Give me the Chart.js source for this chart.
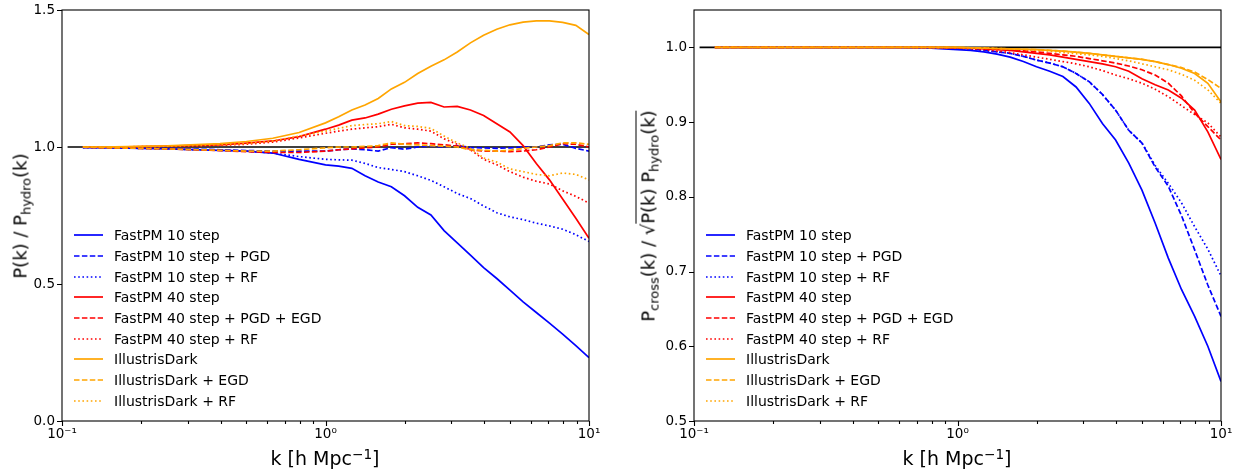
<!DOCTYPE html>
<html>
<head>
<meta charset="utf-8">
<script src="https://cdn.jsdelivr.net/npm/chart.js@4.4.0/dist/chart.umd.min.js"></script>
<style>
body { margin:0; background:#fff; width:1246px; height:472px; position:relative; overflow:hidden; font-family:'DejaVu Sans', sans-serif; color:#000; }
canvas { position:absolute; top:0; }
.ytitle { position:absolute; transform:translate(-50%,-50%) rotate(-90deg); white-space:nowrap; font-size:18px; }
.xtitle { position:absolute; transform:translate(-50%,-50%); white-space:nowrap; font-size:19px; }
.legend { position:absolute; font-size:14px; }
.legend div { height:20.67px; display:flex; align-items:center; white-space:nowrap; }
.legend svg { margin-right:11px; }
sub { font-size:0.72em; vertical-align:-0.32em; line-height:0; }
sup { font-size:0.72em; vertical-align:0.45em; line-height:0; }
.root { border-top:1.3px solid #000; padding-top:1px; }
</style>
</head>
<body>
<canvas id="left" width="623" height="472" style="left:0"></canvas>
<canvas id="right" width="623" height="472" style="left:623px"></canvas>

<div class="ytitle" style="left:20px; top:216px">P(k) / P<sub>hydro</sub>(k)</div>
<div class="ytitle" style="left:648px; top:216px">P<sub>cross</sub>(k) / √<span class="root">P(k) P<sub>hydro</sub>(k)</span></div>
<div class="xtitle" style="left:325px; top:458px">k [h Mpc<sup>−1</sup>]</div>
<div class="xtitle" style="left:957px; top:458px">k [h Mpc<sup>−1</sup>]</div>
<div class="legend" id="legLeft" style="left:74px; top:225px"></div>
<div class="legend" id="legRight" style="left:706px; top:225px"></div>

<script>
// k grid shared by every curve
const kVals = [0.120, 0.158, 0.251, 0.398, 0.501, 0.631, 0.794, 1.0, 1.122, 1.259, 1.413, 1.585, 1.778, 1.995,
               2.239, 2.512, 2.818, 3.162, 3.548, 3.981, 4.467, 5.012, 5.623, 6.310, 7.079, 7.943, 8.913, 10.0];

// left panel: P(k) / P_hydro(k)
const p10      = [0.998,0.997,0.993,0.988,0.985,0.978,0.955,0.935,0.930,0.922,0.895,0.872,0.855,0.822,0.780,0.752,0.695,0.650,0.605,0.560,0.520,0.478,0.435,0.396,0.357,0.317,0.275,0.231];
const p10Pgd   = [0.999,0.998,0.995,0.990,0.987,0.985,0.985,0.985,0.990,0.993,0.990,0.985,0.998,0.992,1.000,1.003,1.000,1.005,0.998,0.997,0.995,0.997,1.000,1.000,1.008,1.010,0.995,0.985];
const p10Rf    = [0.998,0.997,0.993,0.988,0.985,0.978,0.965,0.955,0.953,0.952,0.940,0.925,0.918,0.910,0.895,0.878,0.855,0.830,0.812,0.785,0.760,0.745,0.735,0.722,0.712,0.700,0.680,0.655];
const p40      = [1.000,1.000,1.003,1.008,1.014,1.022,1.038,1.065,1.080,1.098,1.106,1.120,1.138,1.150,1.160,1.163,1.146,1.148,1.135,1.115,1.085,1.055,1.005,0.940,0.880,0.810,0.740,0.667];
const p40PgdEgd= [0.999,0.997,0.993,0.987,0.983,0.980,0.980,0.985,0.990,0.993,0.997,1.000,1.010,1.012,1.015,1.012,1.008,1.003,0.990,0.985,0.985,0.983,0.985,0.990,1.000,1.012,1.010,1.000];
const p40Rf    = [1.000,1.000,1.002,1.006,1.010,1.018,1.033,1.050,1.058,1.065,1.070,1.074,1.083,1.070,1.065,1.058,1.030,1.010,0.990,0.955,0.935,0.910,0.890,0.875,0.865,0.840,0.820,0.795];
const ill      = [1.000,1.001,1.004,1.012,1.020,1.032,1.053,1.088,1.110,1.135,1.153,1.177,1.212,1.236,1.268,1.295,1.318,1.347,1.380,1.408,1.430,1.446,1.456,1.460,1.460,1.455,1.444,1.410];
const illEgd   = [0.999,0.997,0.993,0.988,0.985,0.985,0.990,0.997,1.000,1.000,1.002,1.005,1.015,1.010,1.008,1.005,1.003,1.000,0.990,0.988,0.985,0.988,0.995,1.000,1.005,1.015,1.015,1.010];
const illRf    = [1.000,1.000,1.003,1.008,1.013,1.022,1.040,1.058,1.068,1.078,1.082,1.085,1.093,1.078,1.075,1.068,1.040,1.015,0.995,0.960,0.945,0.920,0.910,0.900,0.895,0.905,0.900,0.880];

// right panel: P_cross / sqrt(P P_hydro)
const c10      = [1.000,1.000,1.000,1.000,0.9998,0.9995,0.999,0.997,0.996,0.994,0.991,0.987,0.981,0.974,0.968,0.961,0.947,0.925,0.898,0.876,0.845,0.809,0.765,0.718,0.676,0.640,0.600,0.553];
const c10Pgd   = [1.000,1.000,1.000,1.000,1.000,0.9998,0.9995,0.999,0.998,0.996,0.994,0.992,0.988,0.983,0.979,0.974,0.965,0.954,0.937,0.916,0.889,0.872,0.840,0.814,0.775,0.729,0.682,0.640];
const c10Rf    = [1.000,1.000,1.000,1.000,1.000,0.9998,0.9995,0.999,0.998,0.996,0.994,0.992,0.988,0.983,0.979,0.974,0.965,0.954,0.937,0.916,0.889,0.872,0.842,0.818,0.792,0.760,0.730,0.694];
const c40      = [1.000,1.000,1.000,1.000,1.000,1.000,1.000,0.9995,0.999,0.998,0.997,0.996,0.994,0.992,0.990,0.987,0.984,0.981,0.978,0.974,0.968,0.958,0.950,0.943,0.932,0.916,0.887,0.850];
const c40PgdEgd= [1.000,1.000,1.000,1.000,1.000,1.000,1.000,0.9995,0.999,0.9985,0.998,0.997,0.9955,0.994,0.992,0.990,0.988,0.985,0.982,0.979,0.975,0.970,0.963,0.952,0.935,0.912,0.894,0.876];
const c40Rf    = [1.000,1.000,1.000,1.000,1.000,1.000,0.9995,0.999,0.998,0.997,0.995,0.993,0.990,0.987,0.984,0.981,0.978,0.974,0.969,0.963,0.958,0.952,0.944,0.934,0.922,0.910,0.899,0.880];
const cIll     = [1.000,1.000,1.000,1.000,1.000,1.000,1.000,1.000,0.9995,0.999,0.9985,0.998,0.9975,0.997,0.996,0.995,0.9935,0.992,0.990,0.988,0.986,0.984,0.981,0.977,0.972,0.965,0.952,0.927];
const cIllEgd  = [1.000,1.000,1.000,1.000,1.000,1.000,1.000,1.000,0.9995,0.999,0.9985,0.998,0.9975,0.997,0.996,0.995,0.9935,0.992,0.990,0.988,0.986,0.984,0.981,0.977,0.973,0.967,0.957,0.945];
const cIllRf   = [1.000,1.000,1.000,1.000,1.000,1.000,1.000,1.000,0.9995,0.999,0.9985,0.998,0.997,0.996,0.995,0.993,0.9915,0.990,0.988,0.985,0.982,0.978,0.974,0.970,0.964,0.956,0.943,0.925];

// reference line
const refK = [0.105, 10];
const refVal = [1, 1];

const names = ['FastPM 10 step', 'FastPM 10 step + PGD', 'FastPM 10 step + RF',
               'FastPM 40 step', 'FastPM 40 step + PGD + EGD', 'FastPM 40 step + RF',
               'IllustrisDark', 'IllustrisDark + EGD', 'IllustrisDark + RF'];
const leftSeries = [p10, p10Pgd, p10Rf, p40, p40PgdEgd, p40Rf, ill, illEgd, illRf];
const rightSeries = [c10, c10Pgd, c10Rf, c40, c40PgdEgd, c40Rf, cIll, cIllEgd, cIllRf];

const xMajor = [0.1, 1, 10];
const xMajorLabels = ['10⁻¹', '10⁰', '10¹'];
const leftYTicks = [0, 0.5, 1.0, 1.5];
const rightYTicks = [0.5, 0.6, 0.7, 0.8, 0.9, 1.0];

const colors = ['#0000ff', '#0000ff', '#0000ff', '#ff0000', '#ff0000', '#ff0000', '#ffa500', '#ffa500', '#ffa500'];
const dashes = [[], [5.5, 2.4], [1.6, 2.6]];

Chart.defaults.font.family = "'DejaVu Sans', sans-serif";
Chart.defaults.font.size = 13.5;
Chart.defaults.color = '#000';

const xTickList = [];
[0.1, 1].forEach(d => { for (let m = 1; m <= 9; m++) xTickList.push(+(d * m).toPrecision(3)); });
xTickList.push(10);

const frameTicks = {
    id: 'frameTicks',
    afterDraw(chart) {
        const { ctx, chartArea: a, scales: { x, y } } = chart;
        ctx.save();
        ctx.strokeStyle = '#000';
        ctx.lineWidth = 1.1;
        ctx.strokeRect(a.left, a.top, a.right - a.left, a.bottom - a.top);
        ctx.beginPath();
        x.ticks.forEach(t => {
            const px = Math.round(x.getPixelForValue(t.value)) + 0.5;
            const major = xMajor.some(v => Math.abs(v - t.value) < 1e-9);
            ctx.moveTo(px, a.bottom);
            ctx.lineTo(px, a.bottom + (major ? 5 : 3));
        });
        y.ticks.forEach(t => {
            const py = Math.round(y.getPixelForValue(t.value)) + 0.5;
            ctx.moveTo(a.left, py);
            ctx.lineTo(a.left - 5, py);
        });
        ctx.stroke();
        ctx.restore();
    }
};

function makeChart(id, series, yMin, yMax, yTicks, yWidth, padRight) {
    const datasets = [{
        data: refK.map((k, i) => ({ x: k, y: refVal[i] })),
        borderColor: '#000', borderWidth: 1.7, pointRadius: 0, order: 1
    }];
    series.forEach((vals, i) => {
        datasets.push({
            label: names[i],
            data: kVals.map((k, j) => ({ x: k, y: vals[j] })),
            borderColor: colors[i], borderWidth: 1.7, borderDash: dashes[i % 3],
            pointRadius: 0, tension: 0, order: -i
        });
    });
    return new Chart(document.getElementById(id), {
        type: 'line',
        data: { datasets },
        plugins: [frameTicks],
        options: {
            responsive: false, animation: false, devicePixelRatio: 1,
            layout: { padding: { top: 10, right: padRight, left: 0, bottom: 0 } },
            plugins: { legend: { display: false }, tooltip: { enabled: false } },
            scales: {
                x: {
                    type: 'logarithmic', min: 0.1, max: 10,
                    grid: { display: false, drawTicks: false }, border: { display: false },
                    afterBuildTicks: s => { s.ticks = xTickList.map(v => ({ value: v })); },
                    afterFit: s => { s.height = 51; s.paddingLeft = 0; s.paddingRight = 0; },
                    ticks: {
                        autoSkip: false, maxRotation: 0, minRotation: 0, padding: 5,
                        callback: v => {
                            const i = xMajor.findIndex(m => Math.abs(m - v) < 1e-9);
                            return i >= 0 ? xMajorLabels[i] : '';
                        }
                    }
                },
                y: {
                    type: 'linear', min: yMin, max: yMax,
                    grid: { display: false, drawTicks: false }, border: { display: false },
                    afterBuildTicks: s => { s.ticks = yTicks.map(v => ({ value: v })); },
                    afterFit: s => { s.width = yWidth; s.paddingTop = 0; s.paddingBottom = 0; },
                    ticks: { padding: 7, callback: v => v.toFixed(1) }
                }
            }
        }
    });
}

makeChart('left', leftSeries, 0, 1.5, leftYTicks, 62, 34);
makeChart('right', rightSeries, 0.5, 1.05, rightYTicks, 71, 25);

function buildLegend(id) {
    const el = document.getElementById(id);
    names.forEach((n, i) => {
        const row = document.createElement('div');
        row.innerHTML = `<svg width="29" height="4"><line x1="0" y1="2" x2="29" y2="2" stroke="${colors[i]}" stroke-width="1.7" stroke-dasharray="${dashes[i % 3].join(' ') || 'none'}"/></svg><span>${n}</span>`;
        el.appendChild(row);
    });
}
buildLegend('legLeft');
buildLegend('legRight');
</script>
</body>
</html>
